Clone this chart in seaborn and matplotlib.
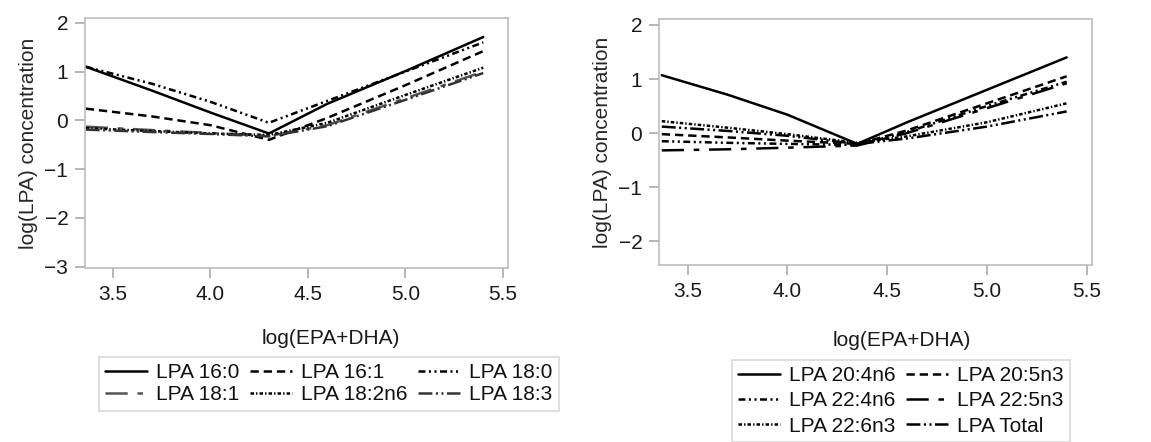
import numpy as np
import pandas as pd
import matplotlib
matplotlib.use('Agg')
import matplotlib.pyplot as plt
import seaborn as sns

# Valores (log(EPA+DHA) vs log(LPA))
x_left = [3.36, 3.7, 4.0, 4.3, 4.6, 5.0, 5.4]
lpa_16_0 = [1.10, 0.61, 0.16, -0.27, 0.34, 1.01, 1.71]
lpa_16_1 = [0.24, 0.08, -0.10, -0.40, 0.05, 0.72, 1.42]
lpa_18_0 = [1.10, 0.75, 0.38, -0.05, 0.40, 1.00, 1.60]
lpa_18_1 = [-0.13, -0.20, -0.26, -0.32, -0.10, 0.45, 1.00]
lpa_18_2n6 = [-0.16, -0.22, -0.27, -0.30, -0.05, 0.52, 1.08]
lpa_18_3 = [-0.19, -0.24, -0.28, -0.33, -0.12, 0.42, 0.97]

x_right = [3.37, 3.7, 4.0, 4.35, 4.6, 5.0, 5.4]
lpa_20_4n6 = [1.07, 0.71, 0.34, -0.20, 0.20, 0.80, 1.40]
lpa_20_5n3 = [-0.02, -0.08, -0.14, -0.20, 0.05, 0.55, 1.05]
lpa_22_4n6 = [-0.15, -0.18, -0.20, -0.22, 0.02, 0.50, 0.95]
lpa_22_5n3 = [-0.32, -0.30, -0.27, -0.23, 0.00, 0.46, 0.92]
lpa_22_6n3 = [0.22, 0.10, -0.02, -0.18, -0.06, 0.20, 0.55]
lpa_total = [0.12, 0.04, -0.05, -0.20, -0.10, 0.12, 0.40]

xticks = [3.5, 4.0, 4.5, 5.0, 5.5]

# Estilos de linea (en puntos, sin escalar por grosor)
SOLID = '-'
DASH = (0, (6, 3.5))
DASH_DOT_DOT = (0, (5, 2.5, 1.5, 2.5, 1.5, 2.5))
LONG_SHORT = (0, (16, 7, 4, 7))
DOTTED = (0, (2.5, 1.5, 1, 1.5))
LONG_DOT_DOT = (0, (10, 2.5, 1.5, 2.5, 1.5, 2.5))

left_series = [
    ("LPA 16:0", lpa_16_0, SOLID, 'black'),
    ("LPA 16:1", lpa_16_1, DASH, 'black'),
    ("LPA 18:0", lpa_18_0, DASH_DOT_DOT, 'black'),
    ("LPA 18:1", lpa_18_1, LONG_SHORT, '#555555'),
    ("LPA 18:2n6", lpa_18_2n6, DOTTED, 'black'),
    ("LPA 18:3", lpa_18_3, LONG_DOT_DOT, '#333333'),
]
right_series = [
    ("LPA 20:4n6", lpa_20_4n6, SOLID, 'black'),
    ("LPA 20:5n3", lpa_20_5n3, DASH, 'black'),
    ("LPA 22:4n6", lpa_22_4n6, DASH_DOT_DOT, 'black'),
    ("LPA 22:5n3", lpa_22_5n3, LONG_SHORT, 'black'),
    ("LPA 22:6n3", lpa_22_6n3, DOTTED, 'black'),
    ("LPA Total", lpa_total, LONG_DOT_DOT, 'black'),
]

FS = 15

sns.set_style("ticks")
plt.rcParams['font.family'] = ['Liberation Sans', 'DejaVu Sans']
plt.rcParams['lines.scale_dashes'] = False

W, H = 1151, 442
fig = plt.figure(figsize=(W / 100, H / 100), dpi=100)

def px_axes(x0, y0, x1, y1):
    return fig.add_axes([x0 / W, 1 - y1 / H, (x1 - x0) / W, (y1 - y0) / H])

ax_l = px_axes(85, 18, 508, 268)
ax_r = px_axes(659, 19, 1092, 265)

def draw_panel(ax, xs, series, ylim, yticks):
    for name, vals, ls, col in series:
        df = pd.DataFrame({"x": xs, "y": vals})
        sns.lineplot(data=df, x="x", y="y", ax=ax, color=col, linestyle=ls,
                     linewidth=1.8, label=name, legend=False)
    ax.set_xlim(3.356, 5.527)
    ax.set_ylim(*ylim)
    ax.set_xticks(xticks)
    ax.set_xticklabels([f"{t:.1f}" for t in xticks])
    ax.set_yticks(yticks)
    ax.set_ylabel("log(LPA) concentration", fontsize=FS, labelpad=5)
    ax.set_xlabel("")
    for sp in ax.spines.values():
        sp.set_visible(True)
        sp.set_color('#bdbdbd')
        sp.set_linewidth(1.2)
    ax.tick_params(axis='both', length=7, width=1.2, color='#aaaaaa',
                   labelsize=FS, labelcolor='#1a1a1a', pad=5)

draw_panel(ax_l, x_left, left_series, (-3.03, 2.1), [-3, -2, -1, 0, 1, 2])
draw_panel(ax_r, x_right, right_series, (-2.44, 2.11), [-2, -1, 0, 1, 2])

# Etiquetas del eje x centradas sobre cada leyenda
fig.text(331 / W, 1 - 338 / H, "log(EPA+DHA)", ha='center', va='center', fontsize=FS, color='#1a1a1a')
fig.text(902 / W, 1 - 340 / H, "log(EPA+DHA)", ha='center', va='center', fontsize=FS, color='#1a1a1a')

leg_kw = dict(loc='upper left', fontsize=FS, frameon=True, fancybox=False,
              edgecolor='#cfcfcf', handlelength=2.0, handletextpad=0.45,
              columnspacing=0.5, borderpad=0.3, borderaxespad=0)

# matplotlib llena por columnas; reordenar para que se lea por filas
h, l = ax_l.get_legend_handles_labels()
order = [0, 3, 1, 4, 2, 5]
leg1 = fig.legend([h[i] for i in order], [l[i] for i in order], ncol=3,
                  bbox_to_anchor=(99 / W, 1 - 357 / H), labelspacing=0.15, **leg_kw)
h, l = ax_r.get_legend_handles_labels()
order = [0, 2, 4, 1, 3, 5]
leg2 = fig.legend([h[i] for i in order], [l[i] for i in order], ncol=2,
                  bbox_to_anchor=(732 / W, 1 - 360 / H), labelspacing=0.3, **leg_kw)
for leg in (leg1, leg2):
    leg.get_frame().set_linewidth(1.2)
    for t in leg.get_texts():
        t.set_color('#111111')

fig.savefig("out.png", dpi=100)
